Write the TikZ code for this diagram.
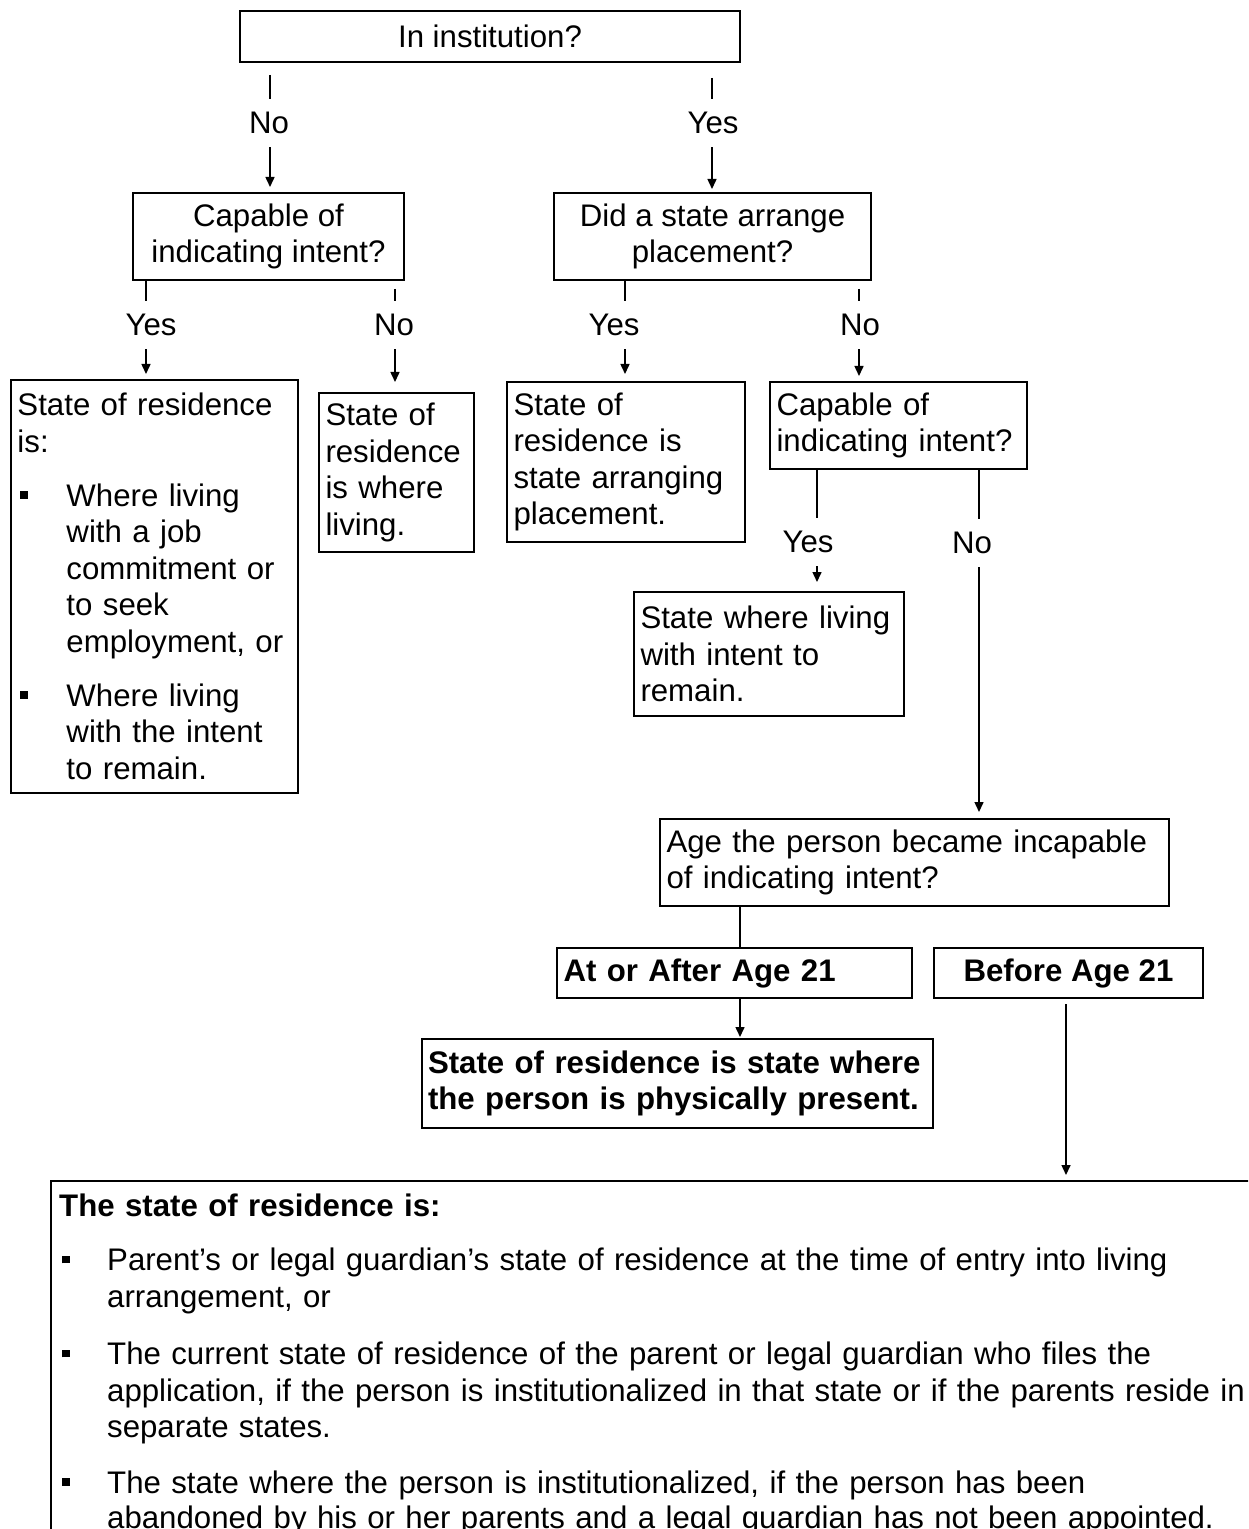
\documentclass[tikz,border=0pt]{standalone}
\usepackage{fontspec}
\setmainfont{Liberation Sans}
\usetikzlibrary{arrows.meta,calc}
\newcommand{\sqb}{\rule[3.75pt]{3.75pt}{3.75pt}}
\newcommand{\bitem}[1]{\makebox[#1][l]{\hspace{1.5pt}\sqb}}
\newcommand{\fs}{\fontsize{15.6pt}{18.25pt}\selectfont}
\tikzset{
  bx/.style={draw, line width=1pt, inner sep=0pt, align=center},
  lbx/.style={draw, line width=1pt, inner xsep=3.25pt, inner ysep=0pt, align=left},
  lab/.style={inner sep=0pt, minimum height=24pt},
  conn/.style={line width=0.75pt},
  arr/.style={conn, -{Triangle[length=5pt,width=4.5pt]}}
}
\begin{document}
\begin{tikzpicture}[x=0.5pt,y=-0.5pt,font=\fs]
\fill[white] (0,0) rectangle (1248,1529);
\clip (0,0) rectangle (1248,1529);

% boxes
\node[bx, minimum width=250pt, minimum height=25.5pt] (inst) at (490,36.5) {In institution?};
\node[bx, minimum width=135.5pt, minimum height=43.5pt] (cap) at (268.5,236.5) {Capable of\\indicating intent?};
\node[bx, minimum width=158.5pt, minimum height=43.5pt] (did) at (712.5,236.5) {Did a state arrange\\placement?};
\node[lbx, minimum width=143.5pt, minimum height=206.5pt, text width=137pt] (L) at (154.5,586.5)
  {State of residence\\
   is:\\[8.75pt]
   \bitem{24.5pt}Where living\\
   \hspace*{24.5pt}with a job\\
   \hspace*{24.5pt}commitment or\\
   \hspace*{24.5pt}to seek\\
   \hspace*{24.5pt}employment, or\\[8.75pt]
   \bitem{24.5pt}Where living\\
   \hspace*{24.5pt}with the intent\\
   \hspace*{24.5pt}to remain.};
\node[lbx, minimum width=77.5pt, minimum height=79.5pt, text width=71pt] (W) at (396.5,472.5)
  {State of\\residence\\is where\\living.};
\node[lbx, minimum width=119pt, minimum height=80pt, text width=112.5pt] (A) at (626,462)
  {State of\\residence is\\state arranging\\placement.};
\node[lbx, minimum width=128.5pt, minimum height=43.5pt, text width=122pt] (C2) at (898.5,425.5)
  {Capable of\\indicating intent?};
\node[lbx, minimum width=135pt, minimum height=62pt, text width=128.5pt] (R) at (769,654)
  {State where living\\with intent to\\remain.};
\node[lbx, minimum width=254.5pt, minimum height=43.5pt, text width=248pt] (Age) at (914.5,862.5)
  {Age the person became incapable\\of indicating intent?};
\node[lbx, minimum width=177.5pt, minimum height=25pt, text width=171pt, font=\fs\bfseries] (At) at (734.5,973)
  {At or After Age 21};
\node[bx, minimum width=134.5pt, minimum height=25pt, font=\fs\bfseries] (Before) at (1068.5,973)
  {Before Age 21};
\node[lbx, inner xsep=3pt, minimum width=255.5pt, minimum height=44.5pt, text width=249.5pt, font=\fs\bfseries] (Present) at (677.5,1083.5)
  {State of residence is state where\\the person is physically present.};
\node[draw, line width=1.2pt, anchor=north west, inner xsep=4pt, inner ysep=6.5pt, align=left, text width=640pt] (bot) at (50,1180)
  {\textbf{The state of residence is:}\\[8.75pt]
   \bitem{24pt}Parent’s or legal guardian’s state of residence at the time of entry into living\\
   \hspace*{24pt}arrangement, or\\[10.5pt]
   \bitem{24pt}The current state of residence of the parent or legal guardian who files the\\
   \hspace*{24pt}application, if the person is institutionalized in that state or if the parents reside in\\
   \hspace*{24pt}separate states.\\[9.5pt]
   \bitem{24pt}The state where the person is institutionalized, if the person has been\\[-0.75pt]
   \hspace*{24pt}abandoned by his or her parents and a legal guardian has not been appointed.};

% labels
\node[lab] (l1) at (269,123) {No};
\node[lab] (l2) at (713,123) {Yes};
\node[lab] (l3) at (151,325) {Yes};
\node[lab] (l4) at (394,325) {No};
\node[lab] (l5) at (614,325) {Yes};
\node[lab] (l6) at (860,325) {No};
\node[lab] (l7) at (808,542) {Yes};
\node[lab] (l8) at (972,543) {No};

% connector columns
\coordinate (x1) at (270,0);
\coordinate (x2) at (712,0);
\coordinate (x3) at (146,0);
\coordinate (x4) at (395,0);
\coordinate (x5) at (625,0);
\coordinate (x6) at (859,0);
\coordinate (x7) at (817,0);
\coordinate (x8) at (979,0);
\coordinate (x9) at (740,0);
\coordinate (x10) at (1066,0);

% connectors
\draw[conn] ($(inst.south -| x1)+(0,12)$) -- (l1.north -| x1);
\draw[arr, shorten >=2.5pt] (l1.south -| x1) -- (cap.north -| x1);
\draw[conn] ($(inst.south -| x2)+(0,15)$) -- (l2.north -| x2);
\draw[arr, shorten >=1.5pt] (l2.south -| x2) -- (did.north -| x2);

\draw[conn] (cap.south -| x3) -- (l3.north -| x3);
\draw[arr, shorten >=2.5pt] (l3.south -| x3) -- (L.north -| x3);
\draw[conn] ($(cap.south -| x4)+(0,8)$) -- (l4.north -| x4);
\draw[arr, shorten >=5pt] (l4.south -| x4) -- (W.north -| x4);

\draw[conn] (did.south -| x5) -- (l5.north -| x5);
\draw[arr, shorten >=3.5pt] (l5.south -| x5) -- (A.north -| x5);
\draw[conn] ($(did.south -| x6)+(0,8)$) -- (l6.north -| x6);
\draw[arr, shorten >=2.5pt] (l6.south -| x6) -- (C2.north -| x6);

\draw[conn] (C2.south -| x7) -- (l7.north -| x7);
\draw[arr, shorten >=4.5pt] (l7.south -| x7) -- (R.north -| x7);
\draw[conn] (C2.south -| x8) -- (l8.north -| x8);
\draw[arr, shorten >=3pt] (l8.south -| x8) -- (Age.north -| x8);

\draw[conn] (Age.south -| x9) -- (At.north -| x9);
\draw[arr, shorten >=0.5pt] (At.south -| x9) -- (Present.north -| x9);
\draw[arr, shorten >=2.5pt] ($(Before.south -| x10)+(0,5)$) -- (bot.north -| x10);
\end{tikzpicture}
\end{document}
